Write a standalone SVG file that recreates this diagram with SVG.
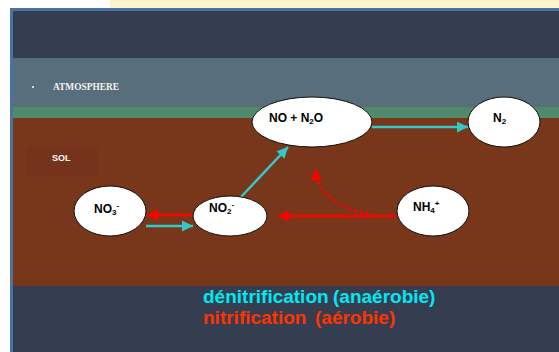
<svg xmlns="http://www.w3.org/2000/svg" width="559" height="352" viewBox="0 0 559 352">
<defs>
<style>
.node{fill:#fff;stroke:#111;stroke-width:1}
.lbl{font-family:"Liberation Sans",Arial,sans-serif;font-weight:bold;font-size:12px;fill:#000}
.sub{font-size:8px}
.cy{stroke:#33c9cc;stroke-width:2.5;fill:none}
.rd{stroke:#ff0000;stroke-width:2.5;fill:none}
</style>
<marker id="ac" viewBox="0 0 10 10" refX="10" refY="5" markerWidth="5" markerHeight="4.4" orient="auto" markerUnits="strokeWidth"><path d="M0,0L10,5L0,10z" fill="#33c9cc"/></marker>
<marker id="ar" viewBox="0 0 10 10" refX="10" refY="5" markerWidth="5" markerHeight="4.4" orient="auto" markerUnits="strokeWidth"><path d="M0,0L10,5L0,10z" fill="#ff0000"/></marker>
</defs>
<rect x="0" y="0" width="559" height="352" fill="#ffffff"/>
<rect x="110" y="0" width="449" height="9" fill="#fff2cc"/>
<rect x="10" y="8" width="549" height="344" fill="#4a74a0"/>
<rect x="13" y="11" width="546" height="341" fill="#343e50"/>
<rect x="13" y="58" width="546" height="49" fill="#586e7a"/>
<rect x="13" y="107" width="546" height="11" fill="#4f8b6a"/>
<rect x="13" y="118" width="546" height="168" fill="#78361a"/>
<rect x="27" y="147" width="71" height="29" fill="#74331a"/>
<g id="atmosphere">
<circle cx="33" cy="87" r="1" fill="#fff"/>
<text x="53" y="90" font-family="Liberation Serif,Times New Roman,serif" font-weight="bold" font-size="9.4" fill="#f4f4f4">ATMOSPHERE</text>
</g>
<g id="sol"><text x="52" y="161" font-family="Liberation Sans,Arial,sans-serif" font-weight="bold" font-size="9" fill="#fff">SOL</text></g>
<g id="connectors">
<line class="cy" x1="146" y1="226" x2="193" y2="226" marker-end="url(#ac)"/>
<line class="rd" x1="194" y1="215" x2="147" y2="215" marker-end="url(#ar)"/>
<line class="rd" x1="397" y1="216" x2="278" y2="216" marker-end="url(#ar)"/>
<line class="cy" x1="241" y1="197" x2="288" y2="147" marker-end="url(#ac)"/>
<line class="cy" x1="372" y1="127" x2="468" y2="127" marker-end="url(#ac)"/>
<path class="rd" d="M369,214 Q320,205 315,169" stroke-dasharray="3,3" marker-end="url(#ar)"/>
</g>
<g id="no3"><ellipse class="node" cx="110" cy="211" rx="36" ry="25"/><text class="lbl" x="94" y="213">NO<tspan class="sub" dy="2">3</tspan><tspan class="sub" dy="-7">-</tspan></text></g>
<g id="no2"><ellipse class="node" cx="230" cy="216" rx="37" ry="20"/><text class="lbl" x="209" y="212">NO<tspan class="sub" dy="2">2</tspan><tspan class="sub" dy="-7">-</tspan></text></g>
<g id="non2o"><ellipse class="node" cx="312" cy="122" rx="60" ry="25"/><text class="lbl" x="269" y="122">NO + N<tspan class="sub" dy="2">2</tspan><tspan dy="-2">O</tspan></text></g>
<g id="n2"><ellipse class="node" cx="504" cy="122" rx="36" ry="25"/><text class="lbl" x="493" y="122">N<tspan class="sub" dy="2">2</tspan></text></g>
<g id="nh4"><ellipse class="node" cx="433" cy="211" rx="36" ry="25"/><text class="lbl" x="413" y="211">NH<tspan class="sub" dy="2">4</tspan><tspan class="sub" dy="-7">+</tspan></text></g>
<g id="legend" font-family="Liberation Sans,Arial,sans-serif" font-weight="bold" font-size="19">
<text x="203" y="303" fill="#00e8f0">dénitrification</text>
<text x="333" y="303" fill="#00e8f0">(anaérobie)</text>
<text x="203" y="324" fill="#ff3300">nitrification</text>
<text x="315" y="324" fill="#ff3300">(aérobie)</text>
</g>
</svg>
